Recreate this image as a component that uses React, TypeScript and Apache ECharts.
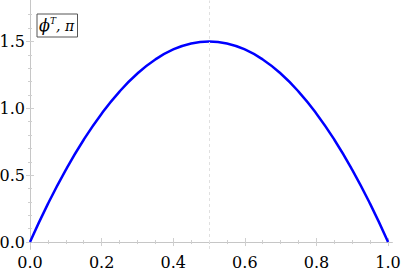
import React, { useEffect, useRef } from "react";
import * as echarts from "echarts";

const xValues = [0, 0.05, 0.1, 0.15, 0.2, 0.25, 0.3, 0.35, 0.4, 0.45, 0.5, 0.55, 0.6, 0.65, 0.7, 0.75, 0.8, 0.85, 0.9, 0.95, 1.0];
const yValues = [0, 0.285, 0.54, 0.765, 0.96, 1.125, 1.26, 1.365, 1.44, 1.485, 1.5, 1.485, 1.44, 1.365, 1.26, 1.125, 0.96, 0.765, 0.54, 0.285, 0];
const xMajorTicks = [0, 0.2, 0.4, 0.6, 0.8, 1.0];
const xMinorTicks = [0.05, 0.1, 0.15, 0.25, 0.3, 0.35, 0.45, 0.5, 0.55, 0.65, 0.7, 0.75, 0.85, 0.9, 0.95];
const yMajorTicks = [0, 0.5, 1.0, 1.5];
const yMinorTicks = [0.1, 0.2, 0.3, 0.4, 0.6, 0.7, 0.8, 0.9, 1.1, 1.2, 1.3, 1.4, 1.6, 1.7];
const gridLineX = 0.5;

const FONT = "'DejaVu Serif', 'Liberation Serif', serif";
const FRAME = "#c6c6c6";
const TICK = "#cfcfcf";

export default function App() {
  const ref = useRef<HTMLDivElement>(null);
  useEffect(() => {
    if (!ref.current) return;
    const chart = echarts.init(ref.current, undefined, { renderer: "svg" });
    const xMin = -0.0084, xMax = 1.011, yMin = -0.052, yMax = 1.806;
    const mkX = (pos: "top" | "bottom", vals: number[], len: number, labels: boolean) => ({
      type: "value" as const, min: xMin, max: xMax, position: pos, gridIndex: 0,
      axisLine: { show: labels || pos === "top", lineStyle: { color: FRAME, width: 1 } },
      axisTick: { show: true, inside: true, length: len, customValues: vals, lineStyle: { color: TICK, width: 1 } },
      axisLabel: {
        show: true, customValues: vals,
        formatter: labels ? (v: number) => v.toFixed(1) : () => "",
        fontFamily: FONT, fontSize: 16, color: "#000", margin: 5,
      },
      splitLine: { show: false },
    });
    const mkY = (pos: "left" | "right", vals: number[], len: number, labels: boolean) => ({
      type: "value" as const, min: yMin, max: yMax, position: pos, gridIndex: 0,
      axisLine: { show: labels || pos === "right", lineStyle: { color: FRAME, width: 1 } },
      axisTick: { show: true, inside: true, length: len, customValues: vals, lineStyle: { color: TICK, width: 1 } },
      axisLabel: {
        show: true, customValues: vals,
        formatter: labels ? (v: number) => v.toFixed(1) : () => "",
        fontFamily: FONT, fontSize: 16, color: "#000", margin: 2,
      },
      splitLine: { show: false },
    });
    chart.setOption({
      animation: false,
      grid: { left: 27, right: 9, top: 0.5, bottom: 24, containLabel: false, outerBoundsMode: "none" },
      xAxis: [
        mkX("bottom", xMajorTicks, 4, true),
        mkX("bottom", xMinorTicks, 2, false),
        mkX("top", xMajorTicks, 4, false),
        mkX("top", xMinorTicks, 2, false),
      ],
      yAxis: [
        mkY("left", yMajorTicks, 4, true),
        mkY("left", yMinorTicks, 2, false),
        mkY("right", yMajorTicks, 4, false),
        mkY("right", yMinorTicks, 2, false),
      ],
      series: [
        {
          type: "line",
          xAxisIndex: 0,
          yAxisIndex: 0,
          data: xValues.map((x, i) => [x, yValues[i]]),
          smooth: true,
          symbol: "none",
          lineStyle: { color: "#0000ff", width: 2.5 },
          markLine: {
            silent: true,
            symbol: "none",
            label: { show: false },
            lineStyle: { color: "#e0e0e0", type: [3, 3], width: 1 },
            data: [{ xAxis: gridLineX }],
          },
          z: 3,
        },
      ],
      graphic: [
        { type: "rect", shape: { x: 37, y: 14, width: 40.5, height: 23 }, style: { fill: "#fff", stroke: "#555", lineWidth: 1 }, z: 10 },
        { type: "text", x: 39, y: 33, style: { text: "ϕ", font: `italic 16px ${FONT}`, fill: "#000", verticalAlign: "bottom" }, z: 11 },
        { type: "text", x: 50, y: 25, style: { text: "T", font: `italic 9px ${FONT}`, fill: "#000", verticalAlign: "bottom" }, z: 11 },
        { type: "text", x: 56, y: 33, style: { text: ", π", font: `italic 14px ${FONT}`, fill: "#000", verticalAlign: "bottom" }, z: 11 },
      ],
    });
    return () => chart.dispose();
  }, []);
  return <div ref={ref} style={{ width: 401, height: 273, position: "absolute", left: 0, top: 0 }} />;
}
